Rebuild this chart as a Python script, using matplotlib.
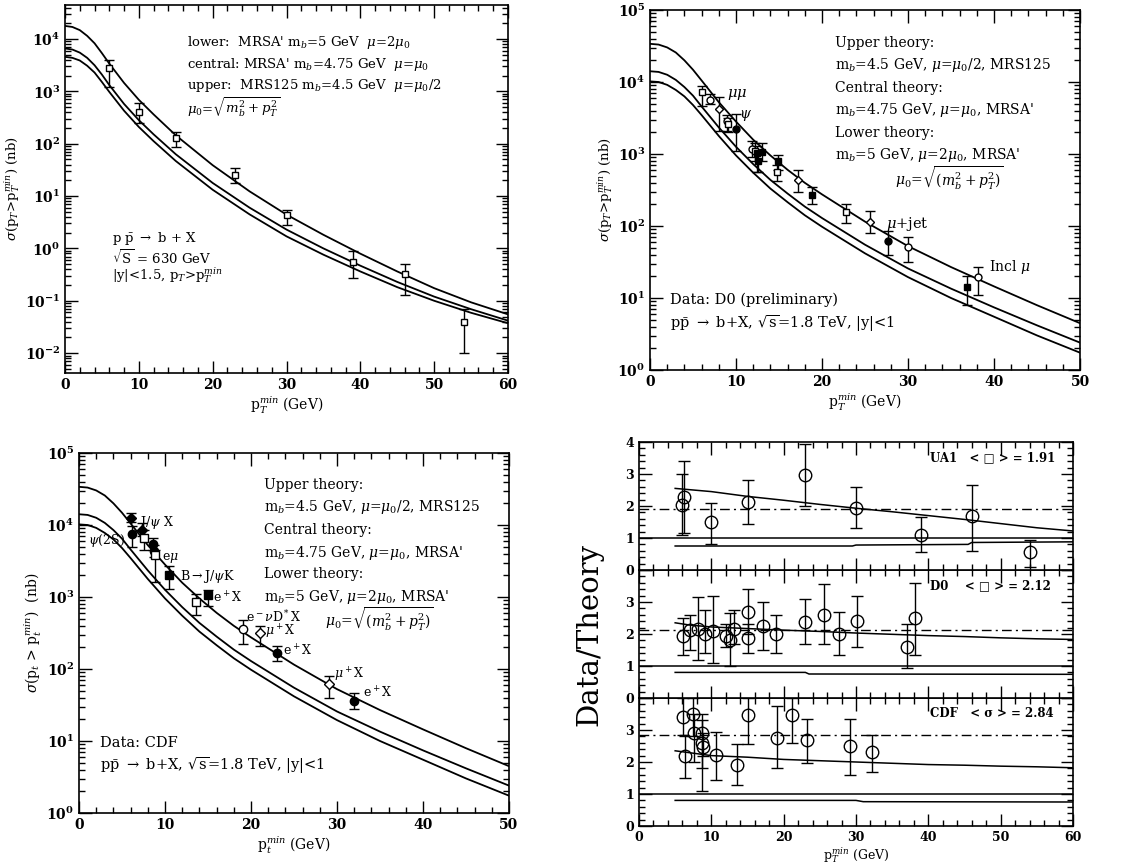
import numpy as np
import matplotlib
matplotlib.use('Agg')
import matplotlib.pyplot as plt
from matplotlib.ticker import LogLocator, MultipleLocator, NullFormatter, FixedLocator

plt.rcParams['font.family'] = ['DejaVu Serif']
plt.rcParams['mathtext.fontset'] = 'dejavuserif'
plt.rcParams['font.size'] = 10

# ---------------- UA1 (630 GeV) ----------------
ua1_theory_x = [0, 1, 2, 3, 4, 5, 6, 8, 10, 12, 15, 20, 25, 30, 35, 40, 45, 50, 55, 60]
ua1_upper = [17800, 17000, 14800, 11500, 8300, 5370, 3390, 1450, 690, 363, 145, 38.9, 12.3,
             4.42, 1.82, 0.794, 0.363, 0.174, 0.0933, 0.055]
ua1_central = [6600, 6300, 5500, 4370, 3160, 2090, 1320, 575, 282, 151, 63, 17.8, 6.0,
               2.29, 1.0, 0.468, 0.229, 0.120, 0.069, 0.0417]
ua1_lower = [4570, 4370, 3890, 3090, 2290, 1510, 977, 427, 209, 112, 46.8, 13.2, 4.47,
             1.70, 0.759, 0.363, 0.182, 0.100, 0.0589, 0.0372]

ua1_x = [6, 10, 15, 23, 30, 39, 46, 54]
ua1_y = [2750, 410, 130, 25, 4.3, 0.54, 0.33, 0.04]
ua1_lo = [1200, 245, 87, 17.5, 2.8, 0.27, 0.13, 0.01]
ua1_hi = [4000, 600, 170, 34, 5.4, 0.9, 0.5, 0.07]

# ---------------- Tevatron (1.8 TeV) theory ----------------
tev_theory_x = [0, 1, 2, 3, 4, 5, 6, 8, 10, 12, 14, 16, 18, 20, 25, 30, 35, 40, 45, 50]
tev_upper = [33900, 33100, 30200, 25700, 20000, 14800, 10500, 5250, 2820, 1580, 955, 603,
             398, 275, 115, 52.5, 26.9, 14.5, 7.94, 4.47]
tev_central = [14100, 13800, 12600, 10700, 8510, 6460, 4570, 2340, 1260, 724, 437, 282,
               186, 129, 55, 25.7, 13.5, 7.41, 4.17, 2.40]
tev_lower = [10200, 10000, 9120, 7760, 6310, 4790, 3470, 1780, 955, 550, 331, 214, 141,
             97.7, 41.7, 19.5, 10.0, 5.5, 3.02, 1.74]

# ---------------- D0 data ----------------
d0_x = [6.0, 7.0, 8.0, 8.9, 9.1, 10.0, 11.9, 12.2, 12.4, 13.0, 12.5, 14.9, 14.8, 17.2,
        18.8, 22.8, 25.6, 27.7, 30.0, 36.9, 38.1]
d0_y = [7200, 5600, 4200, 2900, 2600, 2260, 1180, 1090, 1030, 1070, 790, 790, 570, 435,
        270, 157, 114, 61, 51, 14.4, 19.3]
d0_lo = [4700, 4900, 2100, 2100, 2000, 1100, 900, 800, 560, 800, 560, 600, 420, 300,
         200, 110, 80, 40, 32, 8, 11]
d0_hi = [8900, 6800, 6100, 3500, 3200, 3600, 1500, 1400, 1300, 1400, 1000, 980, 700, 600,
         350, 200, 160, 85, 70, 20, 27]
d0_kind = ['so', 'co', 'do', 'co', 'so', 'cf', 'co', 'so', 'sf', 'sf', 'sf', 'sf', 'so',
           'do', 'sf', 'so', 'do', 'cf', 'co', 'sf', 'co']

# ---------------- CDF data ----------------
cdf_x = [6.0, 6.2, 7.3, 7.5, 8.6, 8.7, 8.8, 10.5, 13.6, 15.0, 19.1, 21.0, 23.0, 29.1, 32.0]
cdf_y = [12600, 7600, 8500, 6500, 5500, 4400, 3800, 2050, 850, 1050, 355, 315, 166, 61, 36]
cdf_lo = [11000, 5000, 7000, 4500, 4500, 3600, 1600, 1300, 560, 750, 220, 210, 130, 40, 28]
cdf_hi = [14500, 9800, 10500, 8500, 6500, 5300, 4500, 2700, 1100, 1250, 480, 400, 210, 80, 46]
cdf_kind = ['df', 'cf', 'df', 'so', 'cf', 'cf', 'so', 'sf', 'so', 'sf', 'co', 'do', 'cf',
            'do', 'cf']

# ---------------- Data / Theory ----------------
r_ua1_x = [6, 6.2, 10, 15, 23, 30, 39, 46, 54]
r_ua1_y = [2.03, 2.29, 1.5, 2.13, 2.96, 1.94, 1.09, 1.68, 0.57]
r_ua1_lo = [1.1, 1.15, 0.8, 1.45, 2.0, 1.3, 0.55, 0.6, 0.1]
r_ua1_hi = [3.0, 3.4, 2.1, 2.8, 3.95, 2.6, 1.65, 2.65, 0.95]
r_ua1_mean = 1.91
r_ua1_up_x = [5, 10, 15, 20, 25, 30, 35, 40, 45, 50, 55, 60]
r_ua1_up_y = [2.55, 2.45, 2.3, 2.18, 2.05, 1.93, 1.82, 1.70, 1.58, 1.45, 1.32, 1.22]
r_ua1_lw_x = [5, 29.5, 30, 45.5, 46, 60]
r_ua1_lw_y = [0.75, 0.75, 0.78, 0.80, 0.86, 0.88]

r_d0_x = [6.1, 7.1, 8.1, 9.1, 10.2, 12.0, 12.6, 13.1, 15.0, 15.1, 17.1, 19.0, 23.0, 25.6,
          27.6, 30.1, 37.1, 38.2]
r_d0_y = [1.94, 2.12, 2.15, 2.0, 2.1, 1.94, 1.80, 2.17, 1.86, 2.69, 2.24, 2.01, 2.38, 2.58,
          2.0, 2.4, 1.6, 2.49]
r_d0_lo = [1.35, 1.5, 1.2, 1.4, 1.1, 1.6, 1.0, 1.7, 1.4, 2.0, 1.5, 1.4, 1.7, 1.7, 1.35,
           1.6, 0.95, 1.35]
r_d0_hi = [2.5, 2.6, 3.15, 2.75, 3.2, 2.3, 2.65, 2.75, 2.3, 3.4, 3.0, 2.6, 3.1, 3.55, 2.7,
           3.2, 2.3, 3.6]
r_d0_mean = 2.12
r_d0_up_x = [5, 7, 10, 15, 20, 25, 30, 35, 40, 45, 50, 55, 60]
r_d0_up_y = [2.35, 2.28, 2.22, 2.17, 2.12, 2.08, 2.03, 1.99, 1.95, 1.92, 1.88, 1.85, 1.83]
r_d0_lw_x = [5, 23, 23.5, 60]
r_d0_lw_y = [0.80, 0.80, 0.75, 0.74]

r_cdf_x = [6.1, 6.3, 7.4, 7.6, 8.75, 8.75, 8.9, 10.6, 13.6, 15.1, 19.1, 21.1, 23.2, 29.2, 32.2]
r_cdf_y = [3.42, 2.19, 3.49, 2.92, 2.92, 2.58, 2.47, 2.21, 1.92, 3.46, 2.76, 3.48, 2.7,
           2.49, 2.3]
r_cdf_lo = [2.85, 1.5, 2.8, 2.0, 1.1, 1.8, 2.2, 1.45, 1.28, 2.55, 1.8, 2.6, 1.98, 1.6, 1.7]
r_cdf_hi = [4.0, 2.8, 4.0, 3.5, 3.5, 3.3, 2.9, 2.95, 2.55, 4.0, 3.75, 4.0, 3.35, 3.35, 2.85]
r_cdf_mean = 2.84
r_cdf_up_x = [5, 10, 15, 20, 25, 30, 35, 40, 45, 50, 55, 60]
r_cdf_up_y = [2.35, 2.2, 2.15, 2.08, 2.04, 2.0, 1.96, 1.92, 1.9, 1.87, 1.85, 1.82]
r_cdf_lw_x = [5, 30, 31, 60]
r_cdf_lw_y = [0.80, 0.80, 0.76, 0.75]

# ====================================================================
fig = plt.figure(figsize=(11.41, 8.67), dpi=100)


def style_log(ax, xmax, xmaj, xmin):
    ax.set_yscale('log')
    ax.yaxis.set_major_locator(LogLocator(base=10, numticks=20))
    ax.yaxis.set_minor_locator(LogLocator(base=10, subs=np.arange(2, 10), numticks=200))
    ax.yaxis.set_minor_formatter(NullFormatter())
    ax.xaxis.set_major_locator(MultipleLocator(xmaj))
    ax.xaxis.set_minor_locator(MultipleLocator(xmin))
    ax.set_xlim(0, xmax)
    ax.tick_params(which='both', direction='in', top=True, right=True, width=1.0)
    ax.tick_params(which='major', length=9)
    ax.tick_params(which='minor', length=4.5)
    for lab in ax.get_xticklabels() + ax.get_yticklabels():
        lab.set_fontweight('bold')
    for s in ax.spines.values():
        s.set_linewidth(1.2)


def draw_points(ax, xs, ys, los, his, kinds, ms=5):
    for x, y, lo, hi, k in zip(xs, ys, los, his, kinds):
        mk = {'s': 's', 'c': 'o', 'd': 'D'}[k[0]]
        fc = 'black' if k[1] == 'f' else 'white'
        size = ms * (0.8 if mk == 'D' else 1.0)
        ax.errorbar([x], [y], yerr=[[y - lo], [hi - y]], fmt=mk, ms=size, mfc=fc,
                    mec='black', mew=1.0, ecolor='black', elinewidth=1.0, capsize=3.5,
                    capthick=1.0, zorder=3)


# ---------------- Top-left: UA1 ----------------
ax1 = fig.add_axes([65 / 1141, 1 - 373 / 867, 443 / 1141, 368 / 867])
for yy in (ua1_upper, ua1_central, ua1_lower):
    ax1.plot(ua1_theory_x, yy, color='black', lw=1.3)
ax1.errorbar(ua1_x, ua1_y, yerr=[np.array(ua1_y) - np.array(ua1_lo),
                                 np.array(ua1_hi) - np.array(ua1_y)],
             fmt='s', ms=5, mfc='white', mec='black', mew=1.0, ecolor='black',
             elinewidth=1.0, capsize=3.5, zorder=3)
style_log(ax1, 60, 10, 2)
ax1.set_ylim(10 ** -2.38, 10 ** 4.65)
ax1.set_xlabel(r'p$_T^{min}$ (GeV)', fontsize=10, labelpad=2)
ax1.set_ylabel(r'$\sigma$(p$_T$>p$_T^{min}$) (nb)', fontsize=9.5, labelpad=2)
tl = ax1.transAxes
ax1.text(0.275, 0.897, r"lower:  MRSA' m$_b$=5 GeV  $\mu$=2$\mu_0$", transform=tl, fontsize=9.5, va='center')
ax1.text(0.275, 0.837, r"central: MRSA' m$_b$=4.75 GeV  $\mu$=$\mu_0$", transform=tl, fontsize=9.5, va='center')
ax1.text(0.275, 0.780, r"upper:  MRS125 m$_b$=4.5 GeV  $\mu$=$\mu_0$/2", transform=tl, fontsize=9.5, va='center')
ax1.text(0.275, 0.723, r"$\mu_0$=$\sqrt{m_b^2+p_T^2}$", transform=tl, fontsize=9.5, va='center')
ax1.text(0.105, 0.365, r"p $\bar{\rm p}$ $\rightarrow$ b + X", transform=tl, fontsize=9.5, va='center')
ax1.text(0.105, 0.315, r"$\sqrt{\rm S}$ = 630 GeV", transform=tl, fontsize=9.5, va='center')
ax1.text(0.105, 0.265, r"|y|<1.5, p$_T$>p$_T^{min}$", transform=tl, fontsize=9.5, va='center')

# ---------------- Top-right: D0 ----------------
ax2 = fig.add_axes([650 / 1141, 1 - 370 / 867, 430 / 1141, 360 / 867])
for yy in (tev_upper, tev_central, tev_lower):
    ax2.plot(tev_theory_x, yy, color='black', lw=1.3)
draw_points(ax2, d0_x, d0_y, d0_lo, d0_hi, d0_kind)
style_log(ax2, 50, 10, 2)
ax2.set_ylim(1, 1e5)
ax2.set_xlabel(r'p$_T^{min}$ (GeV)', fontsize=10, labelpad=2)
ax2.set_ylabel(r'$\sigma$(p$_T$>p$_T^{min}$) (nb)', fontsize=9.5, labelpad=2)
t2 = ax2.transAxes
theory_lines = [r"Upper theory:",
                r"m$_b$=4.5 GeV, $\mu$=$\mu_0$/2, MRS125",
                r"Central theory:",
                r"m$_b$=4.75 GeV, $\mu$=$\mu_0$, MRSA'",
                r"Lower theory:",
                r"m$_b$=5 GeV, $\mu$=2$\mu_0$, MRSA'"]
for s, yv in zip(theory_lines, [0.908, 0.846, 0.783, 0.721, 0.658, 0.596]):
    ax2.text(0.43, yv, s, transform=t2, fontsize=10, va='center')
ax2.text(0.57, 0.533, r"$\mu_0$=$\sqrt{(m_b^2+p_T^2)}$", transform=t2, fontsize=10, va='center')
ax2.text(8.9, 6600, r"$\mu\mu$", fontsize=10.5, va='center')
ax2.text(10.4, 3400, r"$\psi$", fontsize=10, va='center')
ax2.text(27.4, 107, r"$\mu$+jet", fontsize=10.5, va='center')
ax2.text(39.4, 27, r"Incl $\mu$", fontsize=10, va='center')
ax2.text(0.047, 0.194, "Data: D0 (preliminary)", transform=t2, fontsize=10.5, va='center')
ax2.text(0.047, 0.130, r"p$\bar{\rm p}$ $\rightarrow$ b+X, $\sqrt{\rm s}$=1.8 TeV, |y|<1",
         transform=t2, fontsize=10.5, va='center')

# ---------------- Bottom-left: CDF ----------------
ax3 = fig.add_axes([79 / 1141, 1 - 813 / 867, 430 / 1141, 360 / 867])
for yy in (tev_upper, tev_central, tev_lower):
    ax3.plot(tev_theory_x, yy, color='black', lw=1.3)
draw_points(ax3, cdf_x, cdf_y, cdf_lo, cdf_hi, cdf_kind, ms=6)
style_log(ax3, 50, 10, 2)
ax3.set_ylim(1, 1e5)
ax3.set_xlabel(r'p$_t^{min}$ (GeV)', fontsize=10, labelpad=2)
ax3.set_ylabel(r'$\sigma$(p$_t$ > p$_t^{min}$)  (nb)', fontsize=10, labelpad=2)
t3 = ax3.transAxes
for s, yv in zip(theory_lines, [0.911, 0.850, 0.786, 0.722, 0.664, 0.600]):
    ax3.text(0.43, yv, s, transform=t3, fontsize=10, va='center')
ax3.text(0.572, 0.539, r"$\mu_0$=$\sqrt{(m_b^2+p_T^2)}$", transform=t3, fontsize=10, va='center')
lbls = [(7.0, 11000, r"J/$\psi$ X"), (1.0, 6000, r"$\psi$(2S)"), (9.7, 3500, r"e$\mu$"),
        (11.7, 1950, r"B$\rightarrow$J/$\psi$K"), (15.6, 970, r"e$^+$X"),
        (19.4, 530, r"e$^-\nu$D$^*$X"), (21.6, 325, r"$\mu^+$X"), (23.7, 178, r"e$^+$X"),
        (29.7, 83, r"$\mu^+$X"), (33.0, 47, r"e$^+$X")]
for lx, ly, s in lbls:
    ax3.text(lx, ly, s, fontsize=9, va='center')
ax3.text(0.049, 0.194, "Data: CDF", transform=t3, fontsize=10.5, va='center')
ax3.text(0.049, 0.133, r"p$\bar{\rm p}$ $\rightarrow$ b+X, $\sqrt{\rm s}$=1.8 TeV, |y|<1",
         transform=t3, fontsize=10.5, va='center')

# ---------------- Bottom-right: ratios ----------------
L, W, H = 639 / 1141, 434 / 1141, 128 / 867
B0 = 1 - 826 / 867
axr3 = fig.add_axes([L, B0, W, H])
axr2 = fig.add_axes([L, B0 + H, W, H])
axr1 = fig.add_axes([L, B0 + 2 * H, W, H])

panels = [
    (axr1, r_ua1_x, r_ua1_y, r_ua1_lo, r_ua1_hi, r_ua1_mean, r_ua1_up_x, r_ua1_up_y,
     r_ua1_lw_x, r_ua1_lw_y, "UA1   < \u25a1 > = 1.91", 5),
    (axr2, r_d0_x, r_d0_y, r_d0_lo, r_d0_hi, r_d0_mean, r_d0_up_x, r_d0_up_y,
     r_d0_lw_x, r_d0_lw_y, "D0    < \u25a1 > = 2.12", 4),
    (axr3, r_cdf_x, r_cdf_y, r_cdf_lo, r_cdf_hi, r_cdf_mean, r_cdf_up_x, r_cdf_up_y,
     r_cdf_lw_x, r_cdf_lw_y, "CDF   < \u03c3 > = 2.84", 4),
]
for ax, xs, ys, lo, hi, mean, ux, uy, lx, ly, title, nlab in panels:
    ys_a = np.array(ys)
    ax.errorbar(xs, ys, yerr=[ys_a - np.array(lo), np.array(hi) - ys_a], fmt='o', ms=9,
                mfc='none', mec='black', mew=1.0, ecolor='black', elinewidth=1.0,
                capsize=4, zorder=3)
    ax.plot(ux, uy, color='black', lw=1.1)
    ax.plot(lx, ly, color='black', lw=1.1)
    ax.axhline(1.0, color='black', lw=1.1)
    ax.axhline(mean, color='black', lw=1.0, ls=(0, (7, 3, 1.5, 3)))
    ax.set_xlim(0, 60)
    ax.set_ylim(0, 4)
    ax.xaxis.set_major_locator(MultipleLocator(10))
    ax.xaxis.set_minor_locator(MultipleLocator(2))
    ax.yaxis.set_major_locator(FixedLocator([0, 1, 2, 3, 4]))
    ax.yaxis.set_minor_locator(MultipleLocator(0.2))
    ax.set_yticklabels([str(v) if v < nlab else '' for v in [0, 1, 2, 3, 4]],
                       fontsize=9, fontweight='bold')
    ax.tick_params(which='both', direction='in', top=True, right=True, width=1.0)
    ax.tick_params(which='major', length=9)
    ax.tick_params(which='minor', length=4.5)
    for s in ax.spines.values():
        s.set_linewidth(1.2)
    ax.text(0.67, 0.88, title, transform=ax.transAxes, fontsize=8.5, fontweight='bold',
            va='center')
for ax in (axr1, axr2):
    ax.tick_params(labelbottom=False)
for lab in axr3.get_xticklabels():
    lab.set_fontweight('bold')
    lab.set_fontsize(9)
axr3.set_xlabel(r'p$_T^{min}$ (GeV)', fontsize=9, labelpad=1)
fig.text(0.517, 1 - 634 / 867, 'Data/Theory', rotation=90, fontsize=21, va='center',
         ha='center')

fig.savefig('out.png', dpi=100)
